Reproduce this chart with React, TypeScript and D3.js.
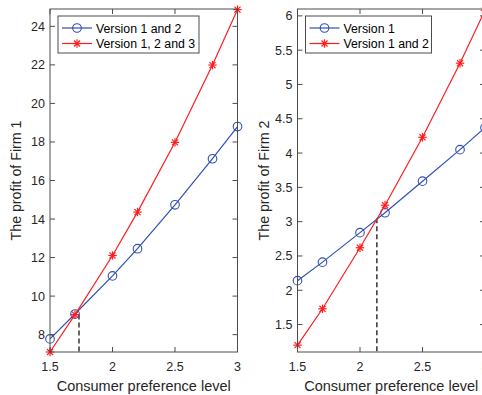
import React, { useRef, useEffect } from "react";
import * as d3 from "d3";

type Pt = { x: number; y: number };

const WIDTH = 482;
const HEIGHT = 395;

const levels = [1.5, 1.7, 2, 2.2, 2.5, 2.8, 3];
const xTicks = [1.5, 2, 2.5, 3];

// Firm 1
const firm1Blue = [7.78, 9.07, 11.05, 12.46, 14.74, 17.13, 18.8];
const firm1Red = [7.1, 9.04, 12.11, 14.36, 17.98, 21.99, 24.87];
const firm1Ticks = [8, 10, 12, 14, 16, 18, 20, 22, 24];
const firm1Cross = { x: 1.732, y: 9.05 };
const firm1Legend = ["Version 1 and 2", "Version 1, 2 and 3"];

// Firm 2
const firm2Blue = [2.14, 2.41, 2.84, 3.13, 3.59, 4.05, 4.37];
const firm2Red = [1.2, 1.73, 2.62, 3.24, 4.23, 5.31, 6.08];
const firm2Ticks = [1.5, 2, 2.5, 3, 3.5, 4, 4.5, 5, 5.5, 6];
const firm2Cross = { x: 2.135, y: 3.05 };
const firm2Legend = ["Version 1", "Version 1 and 2"];

const BLUE = "#2f4fb5";
const RED = "#ff1c1c";
const AXIS = "#4d4d4d";
const TEXT = "#262626";
const FONT = "Liberation Sans, Arial, sans-serif";

type Panel = {
  left: number;
  right: number;
  yDomain: [number, number];
  yTicks: number[];
  blue: number[];
  red: number[];
  cross: Pt;
  legend: string[];
  legendW: number;
  yLabel: string;
};

const TOP = 9;
const BOTTOM = 352;

function drawPanel(svg: d3.Selection<SVGSVGElement, unknown, null, undefined>, p: Panel) {
  const g = svg.append("g");
  const x = d3.scaleLinear().domain([1.5, 3]).range([p.left, p.right]);
  const y = d3.scaleLinear().domain(p.yDomain).range([BOTTOM, TOP]);

  const toPts = (vals: number[]) => levels.map((l, i) => ({ x: l, y: vals[i] }));
  const line = d3
    .line<Pt>()
    .x((d) => x(d.x))
    .y((d) => y(d.y));

  // dashed drop line at the crossing
  g.append("line")
    .attr("x1", x(p.cross.x))
    .attr("x2", x(p.cross.x))
    .attr("y1", y(p.cross.y))
    .attr("y2", BOTTOM)
    .attr("stroke", "#000")
    .attr("stroke-width", 1.2)
    .attr("stroke-dasharray", "5,3");

  // blue series with circles
  g.append("path")
    .datum(toPts(p.blue))
    .attr("fill", "none")
    .attr("stroke", BLUE)
    .attr("stroke-width", 1.2)
    .attr("d", line);
  g.selectAll("circle.b")
    .data(toPts(p.blue))
    .enter()
    .append("circle")
    .attr("cx", (d) => x(d.x))
    .attr("cy", (d) => y(d.y))
    .attr("r", 4.3)
    .attr("fill", "none")
    .attr("stroke", BLUE)
    .attr("stroke-width", 1.1);

  // red series with asterisks
  g.append("path")
    .datum(toPts(p.red))
    .attr("fill", "none")
    .attr("stroke", RED)
    .attr("stroke-width", 1.2)
    .attr("d", line);
  const star = (sel: d3.Selection<SVGGElement, any, any, any>) => {
    const s = 4.2;
    const d = s * 0.72;
    sel.append("line").attr("x1", -s).attr("x2", s).attr("y1", 0).attr("y2", 0);
    sel.append("line").attr("x1", 0).attr("x2", 0).attr("y1", -s).attr("y2", s);
    sel.append("line").attr("x1", -d).attr("x2", d).attr("y1", -d).attr("y2", d);
    sel.append("line").attr("x1", -d).attr("x2", d).attr("y1", d).attr("y2", -d);
    sel.attr("stroke", RED).attr("stroke-width", 1.2);
  };
  g.selectAll("g.r")
    .data(toPts(p.red))
    .enter()
    .append("g")
    .attr("transform", (d) => `translate(${x(d.x)},${y(d.y)})`)
    .call(star as any);

  // box + ticks (inside, all sides)
  const tl = 5;
  g.append("rect")
    .attr("x", p.left)
    .attr("y", TOP)
    .attr("width", p.right - p.left)
    .attr("height", BOTTOM - TOP)
    .attr("fill", "none")
    .attr("stroke", AXIS)
    .attr("stroke-width", 1);
  xTicks.forEach((t) => {
    g.append("line").attr("x1", x(t)).attr("x2", x(t)).attr("y1", BOTTOM).attr("y2", BOTTOM - tl).attr("stroke", AXIS);
    g.append("line").attr("x1", x(t)).attr("x2", x(t)).attr("y1", TOP).attr("y2", TOP + tl).attr("stroke", AXIS);
    g.append("text")
      .attr("x", x(t))
      .attr("y", BOTTOM + 19)
      .attr("text-anchor", "middle")
      .attr("font-size", 12.5)
      .attr("fill", TEXT)
      .text(d3.format("~g")(t));
  });
  p.yTicks.forEach((t) => {
    g.append("line").attr("x1", p.left).attr("x2", p.left + tl).attr("y1", y(t)).attr("y2", y(t)).attr("stroke", AXIS);
    g.append("line").attr("x1", p.right).attr("x2", p.right - tl).attr("y1", y(t)).attr("y2", y(t)).attr("stroke", AXIS);
    g.append("text")
      .attr("x", p.left - 5)
      .attr("y", y(t) + 4.5)
      .attr("text-anchor", "end")
      .attr("font-size", 12.5)
      .attr("fill", TEXT)
      .text(d3.format("~g")(t));
  });

  // axis labels
  g.append("text")
    .attr("x", (p.left + p.right) / 2)
    .attr("y", 391)
    .attr("text-anchor", "middle")
    .attr("font-size", 14.5)
    .attr("fill", TEXT)
    .text("Consumer preference level");
  g.append("text")
    .attr("transform", `translate(${p.left - 29},${(TOP + BOTTOM) / 2}) rotate(-90)`)
    .attr("text-anchor", "middle")
    .attr("font-size", 14.2)
    .attr("fill", TEXT)
    .text(p.yLabel);

  // legend
  const lx = p.left + 8;
  const ly = 16;
  g.append("rect")
    .attr("x", lx)
    .attr("y", ly)
    .attr("width", p.legendW)
    .attr("height", 37)
    .attr("fill", "#fff")
    .attr("stroke", AXIS)
    .attr("stroke-width", 1);
  p.legend.forEach((name, i) => {
    const cy = ly + 12 + i * 15.5;
    const color = i === 0 ? BLUE : RED;
    g.append("line")
      .attr("x1", lx + 4)
      .attr("x2", lx + 34)
      .attr("y1", cy)
      .attr("y2", cy)
      .attr("stroke", color)
      .attr("stroke-width", 1.2);
    if (i === 0) {
      g.append("circle")
        .attr("cx", lx + 19)
        .attr("cy", cy)
        .attr("r", 4.3)
        .attr("fill", "none")
        .attr("stroke", BLUE)
        .attr("stroke-width", 1.1);
    } else {
      g.append("g").attr("transform", `translate(${lx + 19},${cy})`).call(star as any);
    }
    g.append("text")
      .attr("x", lx + 38)
      .attr("y", cy + 4.5)
      .attr("font-size", 12.3)
      .attr("fill", "#000")
      .text(name);
  });
}

export default function App() {
  const svgRef = useRef<SVGSVGElement | null>(null);

  useEffect(() => {
    const svg = d3.select(svgRef.current!);
    svg.selectAll("*").remove();
    svg.attr("font-family", FONT);

    drawPanel(svg as any, {
      left: 50,
      right: 237.5,
      yDomain: [7.1, 24.9],
      yTicks: firm1Ticks,
      blue: firm1Blue,
      red: firm1Red,
      cross: firm1Cross,
      legend: firm1Legend,
      legendW: 141,
      yLabel: "The profit of Firm 1",
    });
    drawPanel(svg as any, {
      left: 297.5,
      right: 485,
      yDomain: [1.1, 6.1],
      yTicks: firm2Ticks,
      blue: firm2Blue,
      red: firm2Red,
      cross: firm2Cross,
      legend: firm2Legend,
      legendW: 126,
      yLabel: "The profit of Firm 2",
    });
  }, []);

  return (
    <svg
      ref={svgRef}
      width={WIDTH}
      height={HEIGHT}
      style={{ position: "absolute", left: 0, top: 0, background: "#fff" }}
    />
  );
}
